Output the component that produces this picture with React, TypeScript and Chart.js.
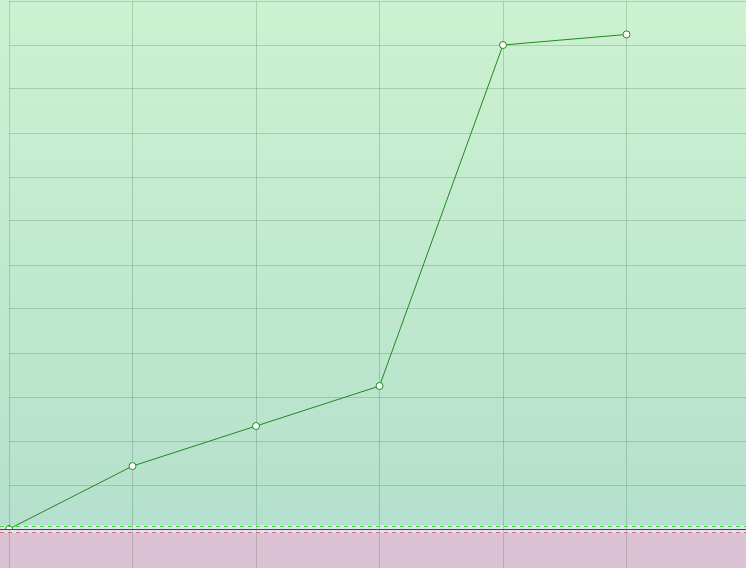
import React, { useEffect, useRef } from "react";
import { Chart, registerables } from "chart.js";

Chart.register(...registerables);

const categories = ["2013", "2014", "2015", "2016", "2017", "2018", "2019"];
const seriesValues: (number | null)[] = [0, 14.3, 23.4, 32.5, 110, 112.4, null];
const yMin = 0;
const yMax = 120;
const yStep = 10;
const upperThreshold = 0.6;
const baseline = 0;
const lowerThreshold = -0.6;
const bandTop = 0.75;
const bandBottom = -0.75;

const backgroundPlugin = {
  id: "bgBands",
  beforeDraw(chart: any) {
    const { ctx, scales, width, height } = chart;
    const y = scales.y;
    const yBandTop = y.getPixelForValue(bandTop);
    const yBandBottom = y.getPixelForValue(bandBottom);
    ctx.save();
    ctx.fillStyle = "#dcc2d5";
    ctx.fillRect(0, yBandBottom, width, height - yBandBottom);
    const g = ctx.createLinearGradient(0, 0, 0, yBandTop);
    g.addColorStop(0, "#cdf2d0");
    g.addColorStop(1, "#b5e0cd");
    ctx.fillStyle = g;
    ctx.fillRect(0, 0, width, yBandTop);
    ctx.fillStyle = "#dbe6ef";
    ctx.fillRect(0, yBandTop, width, yBandBottom - yBandTop);
    ctx.restore();
  },
  afterDatasetsDraw(chart: any) {
    const { ctx, scales, width } = chart;
    const y = scales.y;
    const line = (v: number, color: string, dash: number[]) => {
      const py = Math.round(y.getPixelForValue(v)) + 0.5;
      ctx.save();
      ctx.strokeStyle = color;
      ctx.lineWidth = 1;
      ctx.setLineDash(dash);
      ctx.beginPath();
      ctx.moveTo(0, py);
      ctx.lineTo(width, py);
      ctx.stroke();
      ctx.restore();
    };
    line(upperThreshold, "#3fd93f", [4, 4]);
    line(lowerThreshold, "#d86a6a", [4, 4]);
    line(baseline, "#3434c0", []);
  },
};

export default function App() {
  const ref = useRef<HTMLCanvasElement | null>(null);
  useEffect(() => {
    if (!ref.current) return;
    const chart = new Chart(ref.current, {
      type: "line",
      data: {
        labels: categories,
        datasets: [
          {
            data: seriesValues,
            borderColor: "#1f8a1f",
            borderWidth: 1,
            pointRadius: 3.5,
            pointBackgroundColor: "#ffffff",
            pointBorderColor: "#1f8a1f",
            pointBorderWidth: 1,
            tension: 0,
            fill: false,
          },
        ],
      },
      options: {
        animation: false,
        responsive: true,
        maintainAspectRatio: false,
        layout: { padding: { left: 9, right: 10, top: 1, bottom: 11 } },
        plugins: { legend: { display: false }, tooltip: { enabled: false } },
        scales: {
          x: {
            offset: false,
            grid: { color: "rgba(0,45,0,0.17)", tickLength: 40, drawTicks: true },
            border: { display: false },
            ticks: { display: false, autoSkip: false },
            afterFit: (axis: any) => {
              axis.height = 60;
              axis.paddingLeft = 0;
              axis.paddingRight = 0;
            },
          },
          y: {
            min: yMin,
            max: yMax,
            ticks: { display: false, stepSize: yStep },
            grid: { color: "rgba(0,45,0,0.17)", drawTicks: false },
            border: { display: false },
            afterFit: (axis: any) => {
              axis.width = 0;
              axis.paddingTop = 0;
              axis.paddingBottom = 0;
            },
          },
        },
      },
      plugins: [backgroundPlugin],
    });
    return () => chart.destroy();
  }, []);
  return (
    <div style={{ position: "fixed", left: 0, top: 0, width: 746, height: 568, overflow: "hidden" }}>
      <div style={{ position: "absolute", left: 0, top: -4, width: 760, height: 604 }}>
        <canvas ref={ref} />
      </div>
    </div>
  );
}
